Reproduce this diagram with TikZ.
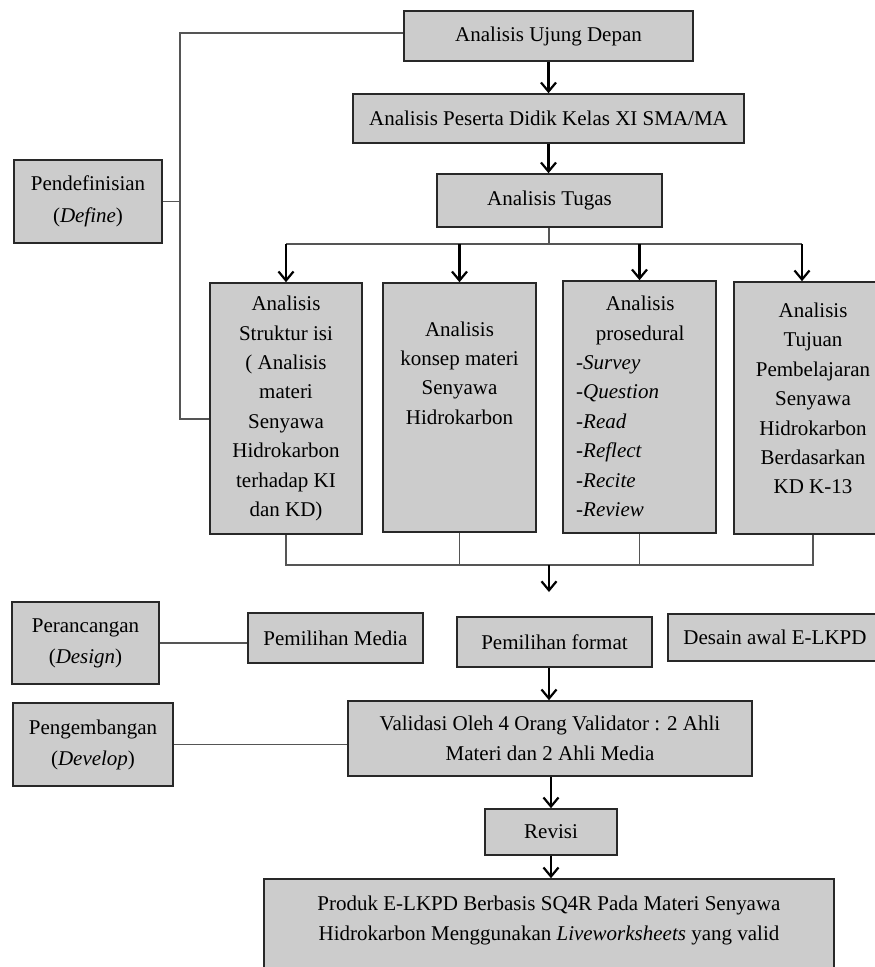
\documentclass[tikz,border=0pt]{standalone}
\usepackage{fontspec}
\setmainfont{Liberation Serif}
\usetikzlibrary{arrows.meta}
\definecolor{boxgray}{RGB}{204,204,204}
\definecolor{edgegray}{RGB}{40,40,40}
\definecolor{conngray}{RGB}{85,85,85}
\tikzset{
  box/.style={draw=edgegray, line width=1.6pt, fill=boxgray, inner sep=0pt, rectangle,
    align=center, font=\fontsize{21}{29.4}\selectfont},
  txt/.style={inner sep=0pt, align=center, font=\fontsize{21}{29.4}\selectfont},
  conn/.style={draw=conngray, line width=1.5pt},
  arr/.style={draw=black, line width=2.2pt, -{Straight Barb[length=9pt,width=15pt]}}
}
\begin{document}
\begin{tikzpicture}[x=1pt,y=-1pt]
\useasboundingbox (0,0) rectangle (875,967);
\clip (0,0) rectangle (875,967);
\fill[white] (0,0) rectangle (875,967);

% boxes
\node[box, minimum width=289, minimum height=50] (ujung) at (548.5,36) {Analisis Ujung Depan};
\node[box, minimum width=391, minimum height=49] (peserta) at (548.5,118.5) {Analisis Peserta Didik Kelas XI SMA/MA};
\node[box, minimum width=225, minimum height=53] (tugas) at (549.5,200.5) {Analisis Tugas};
\node[box, minimum width=148, minimum height=83, font=\fontsize{21}{32}\selectfont] (pendef) at (88,201.5) {Pendefinisian\\(\textit{Define})};

\node[box, minimum width=152, minimum height=251] (s1) at (286,408.5) {Analisis\\Struktur isi\\( Analisis\\materi\\Senyawa\\Hidrokarbon\\terhadap KI\\dan KD)};
\node[box, minimum width=153, minimum height=249] (s2) at (459.5,407.5) {};
\node[txt] (s2t) at (459.5,373) {Analisis\\konsep materi\\Senyawa\\Hidrokarbon};
\node[box, minimum width=153, minimum height=252] (s3) at (639.5,407) {};
\node[txt, anchor=west, text width=128pt, align=left] (s3t) at (576,406.5)
  {\makebox[128pt]{Analisis}\\\makebox[128pt]{prosedural}\\-\textit{Survey}\\-\textit{Question}\\-\textit{Read}\\-\textit{Reflect}\\-\textit{Recite}\\-\textit{Review}};
\node[box, minimum width=158, minimum height=252] (s4) at (813,408) {};
\node[txt] (s4t) at (813,398.5) {Analisis\\Tujuan\\Pembelajaran\\Senyawa\\Hidrokarbon\\Berdasarkan\\KD K-13};

\node[box, minimum width=147, minimum height=82, font=\fontsize{21}{31}\selectfont] (peranc) at (85.5,643) {Perancangan\\(\textit{Design})};
\node[box, minimum width=175, minimum height=50] (media) at (335.5,638) {Pemilihan Media};
\node[box, minimum width=195, minimum height=50] (format) at (554.5,642) {Pemilihan format};
\node[box, minimum width=214, minimum height=47] (desain) at (775,637.5) {Desain awal E-LKPD};

\node[box, minimum width=160, minimum height=83, font=\fontsize{21}{31}\selectfont] (pengemb) at (93,744.5) {Pengembangan\\(\textit{Develop})};
\node[box, minimum width=404, minimum height=75, font=\fontsize{21}{30}\selectfont] (validasi) at (550,738.5) {Validasi Oleh 4 Orang Validator : 2 Ahli\\Materi dan 2 Ahli Media};
\node[box, minimum width=132, minimum height=46] (revisi) at (551,832) {Revisi};
\node[box, minimum width=570, minimum height=111] (produk) at (549,934.5) {};
\node[txt, font=\fontsize{21}{30}\selectfont] (produkt) at (549,920) {Produk E-LKPD Berbasis SQ4R Pada Materi Senyawa\\Hidrokarbon Menggunakan \textit{Liveworksheets} yang valid};

% coordinates
\coordinate (bkt) at (180,33);
\coordinate (bkb) at (180,419);
\coordinate (br) at (549,244);
\coordinate (b4) at (802,244);
\coordinate (jn) at (549,565);
\coordinate (jtip) at (549,592);

% define bracket
\draw[conn] (ujung.west |- bkt) -- (bkt) -- (bkb) -- (s1.west |- bkb);
\draw[conn] (pendef.east) -- (pendef.east -| bkt);

% top chain
\draw[arr] (ujung.south) -- (peserta.north);
\draw[arr] (peserta.south) -- (peserta.south |- tugas.north);

% branch
\draw[conn] (tugas.south -| br) -- (br);
\draw[conn] (s1.north |- br) -- (b4);
\draw[arr] (s1.north |- br) -- (s1.north);
\draw[arr] (s2.north |- br) -- (s2.north);
\draw[arr] (s3.north |- br) -- (s3.north);
\draw[arr] (b4) -- (b4 |- s4.north);

% join
\draw[conn] (s1.south) -- (s1.south |- jn) -- (s4.south |- jn) -- (s4.south);
\draw[conn] (s2.south) -- (s2.south |- jn);
\draw[conn] (s3.south) -- (s3.south |- jn);
\draw[arr] (jn) -- (jtip);

% lower part
\draw[conn] (peranc.east) -- (peranc.east -| media.west);
\draw[arr] (format.south -| jn) -- (validasi.north -| jn);
\draw[conn] (pengemb.east) -- (pengemb.east -| validasi.west);
\draw[arr] (validasi.south -| revisi.north) -- (revisi.north);
\draw[arr] (revisi.south) -- (revisi.south |- produk.north);
\end{tikzpicture}
\end{document}
